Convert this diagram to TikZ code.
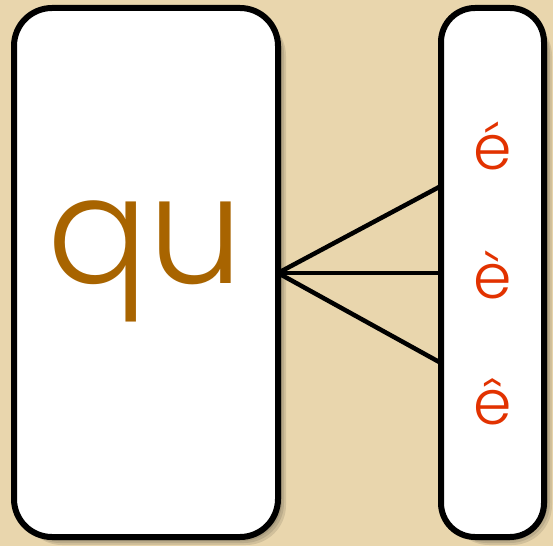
\documentclass[tikz,border=0pt]{standalone}
\usepackage{fontspec}
\setmainfont{Poppins}[UprightFont={* Light}]
\definecolor{bg}{HTML}{E9D6AD}
\definecolor{quc}{HTML}{A86400}
\definecolor{accc}{HTML}{E23200}
\begin{document}
\begin{tikzpicture}[x=1bp,y=-1bp,
  panel/.style={draw=black,line width=6bp,fill=white,rounded corners=38bp},
  shadowbox/.style={fill=black,opacity=0.1,rounded corners=40bp},
  link/.style={draw=black,line width=4.5bp},
  bigtxt/.style={text=quc,font=\fontsize{150}{150}\selectfont,inner sep=0pt,anchor=base},
  acc/.style={text=accc,font=\fontsize{62}{62}\selectfont,inner sep=0pt,anchor=base}]
\useasboundingbox (0,0) rectangle (553,546);
\fill[bg] (0,0) rectangle (553,546);
% shadows
\foreach \d in {2,4,6,8}{
  \fill[shadowbox] (14+\d,8+\d) rectangle (278+\d,537+\d);
  \fill[shadowbox] (441+\d,8+\d) rectangle (544+\d,537+\d);
}
\path[panel] (14,8) rectangle (278,537);
\path[panel,rounded corners=34bp] (441,8) rectangle (544,537);
\coordinate (L) at (278,273);
\coordinate (R1) at (441,186);
\coordinate (R2) at (441,273);
\coordinate (R3) at (441,363);
\draw[link] (L) -- (R1);
\draw[link] (L) -- (R2);
\draw[link] (L) -- (R3);
\node[bigtxt] (qu) at (145,283) {qu};
\node[acc] (e1) at (493,170) {é};
\node[acc] (e2) at (493,298) {è};
\node[acc] (e3) at (493,424) {ê};
\end{tikzpicture}
\end{document}
